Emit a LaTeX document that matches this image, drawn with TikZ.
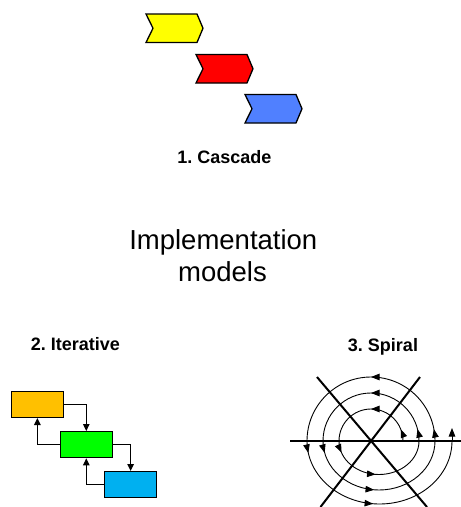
\documentclass[tikz,border=0pt]{standalone}
\usepackage{fontspec}
\setmainfont{Liberation Sans}
\usetikzlibrary{arrows.meta,decorations.markings}
\definecolor{chyellow}{RGB}{255,255,0}
\definecolor{chred}{RGB}{255,0,0}
\definecolor{chblue}{RGB}{80,128,255}
\definecolor{bxorange}{RGB}{255,192,0}
\definecolor{bxgreen}{RGB}{0,255,0}
\definecolor{bxblue}{RGB}{0,176,240}
\frenchspacing
\begin{document}
\begin{tikzpicture}[x=1pt,y=-1pt,
  chev/.style={draw=black,line width=1.3pt,line join=miter},
  box/.style={draw=black,line width=1.3pt,minimum width=52pt,minimum height=26pt,inner sep=0pt},
  conn/.style={line width=1.1pt,-{Triangle[length=7pt,width=6.5pt]}},
  lbl/.style={font=\fontsize{18}{21}\selectfont\bfseries,inner sep=0pt,anchor=base},
  ttl/.style={font=\fontsize{27.5}{32}\selectfont,inner sep=0pt,anchor=base},
  sp/.style={line width=0.9pt},
  thickln/.style={line width=2pt},
  spa/.tip={Triangle[length=8.5pt,width=6.5pt]}
]
\useasboundingbox[fill=white] (0,0) rectangle (461,507);

% cascade chevrons
\filldraw[chev,fill=chyellow] (146,14) -- (197,14) -- (203,28.25) -- (197,42.5) -- (146,42.5) -- (153,28.25) -- cycle;
\filldraw[chev,fill=chred] (196,54.5) -- (247,54.5) -- (253,68.75) -- (247,83) -- (196,83) -- (203,68.75) -- cycle;
\filldraw[chev,fill=chblue] (245,94.5) -- (296,94.5) -- (302,108.75) -- (296,123) -- (245,123) -- (252,108.75) -- cycle;
\node[lbl] (cascade) at (224.5,163.3) {1. Cascade};

% title
\node[ttl] (title1) at (223.3,249.3) {Implementation};
\node[ttl] (title2) at (222.5,281.7) {models};

% iterative
\node[lbl] (iterlbl) at (75.3,350) {2. Iterative};
\node[box,fill=bxorange] (o) at (37.35,404.35) {};
\node[box,fill=bxgreen] (g) at (86.3,444.65) {};
\node[box,fill=bxblue] (b) at (130.65,484.65) {};
\draw[conn] (o.east) -| (g.north);
\draw[conn] (g.west) -| (o.south);
\draw[conn] (g.east) -| (b.north);
\draw[conn] (b.west) -| (g.south);

% spiral
\node[lbl] (spirallbl) at (383,351) {3. Spiral};
\foreach \r in {32,48,64} {
  \draw[sp,postaction={decorate},decoration={markings,
     mark=at position 12pt with {\arrow{spa}},
     mark=at position 0.5 with {\arrow{spa}}}]
     (371+\r,441) arc[start angle=0,end angle=-180,radius=\r];
}
\foreach \l/\rx/\ry in {339/40/33.5, 323/56/49, 307/72.5/63} {
  \draw[sp,postaction={decorate},decoration={markings,
     mark=at position 12pt with {\arrow{spa}},
     mark=at position 0.47 with {\arrow{spa}}}]
     (\l,441) arc[start angle=180,end angle=0,x radius=\rx,y radius=\ry];
}
\draw[sp,-{spa}] (452,441) -- (452,428);
\draw[thickln] (290,441) -- (461,441);
\draw[thickln] (317,377) -- (427,507);
\draw[thickln] (420,377) -- (320.5,507);
\end{tikzpicture}
\end{document}
